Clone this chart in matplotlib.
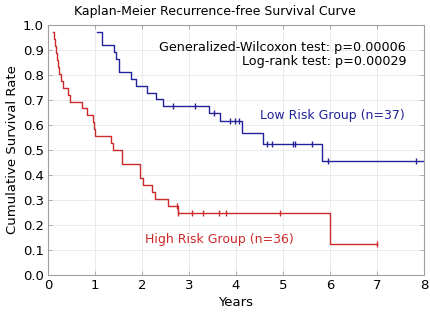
import matplotlib
matplotlib.use("Agg")
import matplotlib.pyplot as plt
import numpy as np

plt.rcParams['font.family'] = ['DejaVu Sans']

# High risk group: step times and survival levels after each step
high_times = [0.11, 0.13, 0.15, 0.17, 0.19, 0.21, 0.24, 0.27, 0.31, 0.42, 0.47,
              0.73, 0.84, 0.95, 0.97, 0.99, 1.34, 1.39, 1.58, 1.96, 2.03, 2.21, 2.28,
              2.56, 2.77, 6.00, 7.00]
high_surv = [0.972, 0.944, 0.917, 0.889, 0.861, 0.833, 0.806, 0.778, 0.750, 0.722, 0.694,
             0.667, 0.639, 0.611, 0.583, 0.556, 0.528, 0.500, 0.444, 0.389, 0.361, 0.333, 0.306,
             0.278, 0.247, 0.123, 0.123]
high_cens_t = [2.74, 2.77, 3.06, 3.30, 3.64, 3.79, 4.94, 6.99]
high_cens_s = [0.278, 0.247, 0.247, 0.247, 0.247, 0.247, 0.247, 0.123]

# Low risk group
low_times = [1.04, 1.14, 1.40, 1.45, 1.52, 1.76, 1.87, 2.11, 2.30, 2.45, 3.43,
             3.66, 4.13, 4.57, 5.84, 8.0]
low_surv = [0.973, 0.919, 0.892, 0.865, 0.811, 0.784, 0.757, 0.730, 0.703, 0.676, 0.647,
            0.616, 0.570, 0.524, 0.457, 0.457]
low_cens_t = [2.67, 3.13, 3.53, 3.87, 3.98, 4.06, 4.67, 4.76, 5.22, 5.26, 5.61, 5.96, 7.84]
low_cens_s = [0.676, 0.676, 0.647, 0.616, 0.616, 0.616, 0.524, 0.524, 0.524, 0.524, 0.524,
              0.457, 0.457]

x_ticks = [0, 1, 2, 3, 4, 5, 6, 7, 8]
y_ticks = [0.0, 0.1, 0.2, 0.3, 0.4, 0.5, 0.6, 0.7, 0.8, 0.9, 1.0]

red = '#cc2a2a'
blue = '#22229a'

fig = plt.figure(figsize=(4.30, 3.17), dpi=100)
ax = fig.add_axes([48/430, 42/317, 376/430, 250/317])

ax.step(high_times, high_surv, where='post', color=red, lw=1.0)
ax.plot(high_cens_t, high_cens_s, ls='none', marker='|', ms=5, mew=1.0, color=red)
ax.step(low_times, low_surv, where='post', color=blue, lw=1.0)
ax.plot(low_cens_t, low_cens_s, ls='none', marker='|', ms=5, mew=1.0, color=blue)

ax.set_xlim(0, 8)
ax.set_ylim(0, 1.0)
ax.set_xticks(x_ticks)
ax.set_yticks(y_ticks)
ax.set_yticklabels([f"{v:.1f}" for v in y_ticks])
ax.grid(True, color='#e8e8e8', lw=0.6)
ax.set_axisbelow(True)
for s in ax.spines.values():
    s.set_color('#a0a0a0')
    s.set_linewidth(0.8)
ax.tick_params(direction='in', length=3, width=0.6, color='#a0a0a0',
               labelsize=9.5, top=True, right=True, pad=3)

ax.set_xlabel('Years', fontsize=9.5, labelpad=3)
ax.set_ylabel('Cumulative Survival Rate', fontsize=9.5, labelpad=3)
fig.text(0.5, 1 - 12/317, 'Kaplan-Meier Recurrence-free Survival Curve',
         ha='center', va='center', fontsize=9.0)

ax.text(7.62, 0.912, 'Generalized-Wilcoxon test: p=0.00006', ha='right', va='center',
        fontsize=9.2, color='black')
ax.text(7.62, 0.852, 'Log-rank test: p=0.00029', ha='right', va='center',
        fontsize=9.2, color='black')
ax.text(7.58, 0.64, 'Low Risk Group (n=37)', ha='right', va='center', fontsize=9.0, color=blue)
ax.text(2.06, 0.14, 'High Risk Group (n=36)', ha='left', va='center', fontsize=9.0, color=red)

fig.savefig('out.png', dpi=100)
